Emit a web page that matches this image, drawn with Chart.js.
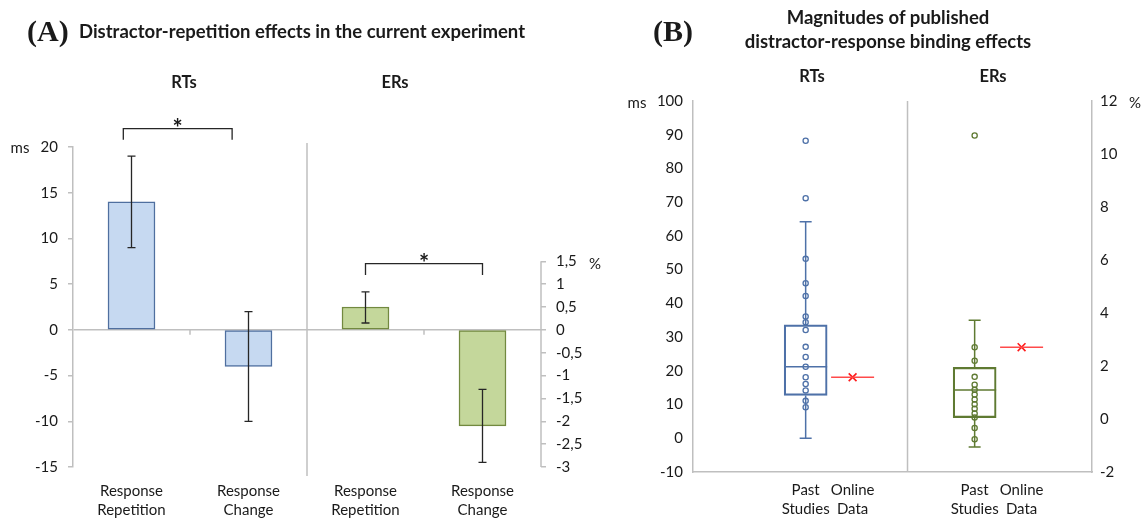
<!DOCTYPE html>
<html>
<head>
<meta charset="utf-8">
<script src="https://cdn.jsdelivr.net/npm/chart.js@4.4.1/dist/chart.umd.min.js"></script>
<style>
body { margin: 0; background: #fff; }
#wrap { position: relative; width: 1144px; height: 519px; overflow: hidden; font-family: Lato, "Open Sans", sans-serif; color: #1a1a1a; }
canvas { position: absolute; top: 0; }
.t { position: absolute; transform: translate(-50%, -50%); white-space: nowrap; }
.l { position: absolute; transform: translate(0, -50%); white-space: nowrap; }
.lbl { font-size: 15px; }
.hd { font-weight: bold; font-size: 16.5px; }
.ttl { font-weight: bold; font-size: 18.5px; }
.pn { font-family: "Liberation Serif", serif; font-weight: bold; font-size: 30px; }
</style>
</head>
<body>
<div id="wrap">
  <canvas id="chartA" width="600" height="519" style="left:0"></canvas>
  <canvas id="chartB" width="544" height="519" style="left:600px"></canvas>

  <div class="l pn" style="left:27px;top:31px">(A)</div>
  <div class="l ttl" style="left:79px;top:31px">Distractor-repetition effects in the current experiment</div>
  <div class="t hd" style="left:184px;top:82px">RTs</div>
  <div class="t hd" style="left:395px;top:82px">ERs</div>
  <div class="t lbl" style="left:20px;top:147px">ms</div>
  <div class="t lbl" style="left:595px;top:263px">%</div>

  <div class="l pn" style="left:653px;top:31px">(B)</div>
  <div class="t ttl" style="left:888px;top:17px">Magnitudes of published</div>
  <div class="t ttl" style="left:888px;top:41px">distractor-response binding effects</div>
  <div class="t hd" style="left:812px;top:76px">RTs</div>
  <div class="t hd" style="left:993px;top:76px">ERs</div>
  <div class="t lbl" style="left:637px;top:102px">ms</div>
  <div class="t lbl" style="left:1135px;top:102px">%</div>
</div>

<script>
// ---- panel A : distractor-repetition effects ----
var aLabels = [['Response', 'Repetition'], ['Response', 'Change'], ['Response', 'Repetition'], ['Response', 'Change']];
var aSlots = [0, 1, 2, 3];
var rtEffect = [14, -4];        // ms
var rtErrLow = [9, -10];
var rtErrHigh = [19, 2];
var erEffect = [0.5, -2.1];     // %
var erErrLow = [0.15, -2.9];
var erErrHigh = [0.83, -1.3];
var rtBracket = [-0.07, 0.86, 22, 20.8];    // x from, x to, y, leg end
var erBracket = [2, 3, 1.45, 1.2];
var msTicksA = [-15, -10, -5, 0, 5, 10, 15, 20];
var pctTicksA = [-3, -2.5, -2, -1.5, -1, -0.5, 0, 0.5, 1, 1.5];

// ---- panel B : published effects ----
var bLabels = [['Past', 'Studies'], ['Online', 'Data'], ['Past', 'Studies'], ['Online', 'Data']];
var bSlots = [2.4, 3.4, 6.0, 7.0];
var rtStudies = [88.2, 71.2, 53.2, 46.0, 42.2, 36.1, 34.4, 32.1, 27.1, 24.1, 21.2, 18.1, 16.1, 14.2, 11.1, 9.2];
var rtBox = [0, 12.7, 21.2, 33.6, 64.2];     // min, q1, median, q3, max
var rtOnline = 18.1;
var erStudies = [10.7, 2.71, 2.2, 1.59, 1.29, 1.1, 0.92, 0.74, 0.56, 0.39, 0.21, 0.06, -0.34, -0.76];
var erBox = [-1.06, 0.05, 1.09, 1.95, 3.73];
var erOnline = 2.71;
var msTicksB = [-10, 0, 10, 20, 30, 40, 50, 60, 70, 80, 90, 100];
var pctTicksB = [-2, 0, 2, 4, 6, 8, 10, 12];

var axisGray = '#bfbfbf';
var textCol = '#1a1a1a';
var rtBlue = '#4e71a8';
var erGreen = '#5f7a32';
var tickFont = { family: 'Lato, "Open Sans", sans-serif', size: 15, lineHeight: 1.3 };

function fixedTicks(list) {
    return function (scale) {
        scale.ticks = list.map(function (v) { return { value: v }; });
    };
}
function commaLabel(v) {
    return String(v).replace('.', ',');
}

var decorA = {
    id: 'decorA',
    beforeDatasetsDraw: function (chart) {
        var ctx = chart.ctx;
        var xs = chart.scales.x, ys = chart.scales.y, ye = chart.scales.yEr;
        var area = chart.chartArea;
        ctx.save();
        ctx.strokeStyle = axisGray;
        ctx.lineWidth = 1.5;
        // divider between RTs and ERs
        var dx = xs.getPixelForValue(1.5);
        ctx.beginPath();
        ctx.moveTo(dx, area.top - 4);
        ctx.lineTo(dx, area.bottom + 9);
        ctx.stroke();
        // small category ticks on the zero line
        var y0 = ys.getPixelForValue(0);
        [0.5, 2.5].forEach(function (v) {
            var px = xs.getPixelForValue(v);
            ctx.beginPath();
            ctx.moveTo(px, y0);
            ctx.lineTo(px, y0 + 5);
            ctx.stroke();
        });
        // the % axis only covers its own range
        ctx.beginPath();
        ctx.moveTo(ye.left, ye.getPixelForValue(pctTicksA[pctTicksA.length - 1]));
        ctx.lineTo(ye.left, ye.getPixelForValue(pctTicksA[0]));
        ctx.stroke();
        ctx.restore();
    },
    afterDatasetsDraw: function (chart) {
        var ctx = chart.ctx;
        var xs = chart.scales.x, ys = chart.scales.y, ye = chart.scales.yEr;
        ctx.save();
        ctx.strokeStyle = '#262626';
        ctx.lineWidth = 1.3;
        function errBar(x, lo, hi) {
            ctx.beginPath();
            ctx.moveTo(x, lo); ctx.lineTo(x, hi);
            ctx.moveTo(x - 4, lo); ctx.lineTo(x + 4, lo);
            ctx.moveTo(x - 4, hi); ctx.lineTo(x + 4, hi);
            ctx.stroke();
        }
        for (var i = 0; i < rtEffect.length; i++) {
            errBar(xs.getPixelForValue(aSlots[i]), ys.getPixelForValue(rtErrLow[i]), ys.getPixelForValue(rtErrHigh[i]));
        }
        for (var j = 0; j < erEffect.length; j++) {
            errBar(xs.getPixelForValue(aSlots[j + 2]), ye.getPixelForValue(erErrLow[j]), ye.getPixelForValue(erErrHigh[j]));
        }
        // significance brackets
        function bracket(b, scale) {
            var x1 = xs.getPixelForValue(b[0]), x2 = xs.getPixelForValue(b[1]);
            var y = scale.getPixelForValue(b[2]), yl = scale.getPixelForValue(b[3]);
            ctx.beginPath();
            ctx.moveTo(x1, yl); ctx.lineTo(x1, y); ctx.lineTo(x2, y); ctx.lineTo(x2, yl);
            ctx.stroke();
            ctx.fillStyle = textCol;
            ctx.font = 'bold 24px Lato, sans-serif';
            ctx.textAlign = 'center';
            ctx.textBaseline = 'alphabetic';
            ctx.fillText('*', (x1 + x2) / 2, y + 8);
        }
        bracket(rtBracket, ys);
        bracket(erBracket, ye);
        ctx.restore();
    }
};

new Chart(document.getElementById('chartA'), {
    type: 'bar',
    data: {
        datasets: [{
            data: rtEffect.map(function (v, i) { return { x: aSlots[i], y: v }; }),
            yAxisID: 'y',
            backgroundColor: '#c6d9f1',
            borderColor: '#4f6f9f',
            borderWidth: 1.5,
            borderSkipped: false,
            barThickness: 47,
            grouped: false
        }, {
            data: erEffect.map(function (v, i) { return { x: aSlots[i + 2], y: v }; }),
            yAxisID: 'yEr',
            backgroundColor: '#c4d79b',
            borderColor: '#72893f',
            borderWidth: 1.5,
            borderSkipped: false,
            barThickness: 47,
            grouped: false
        }]
    },
    options: {
        responsive: false,
        animation: false,
        events: [],
        layout: { padding: { top: 147, left: 0, right: 0, bottom: 0 } },
        plugins: { legend: { display: false }, tooltip: { enabled: false } },
        scales: {
            x: {
                type: 'linear', min: -0.5, max: 3.5, offset: false,
                afterBuildTicks: fixedTicks(aSlots),
                afterFit: function (s) { s.height = 52; },
                grid: { display: false, drawTicks: false },
                border: { display: false },
                ticks: {
                    padding: 14, color: textCol, font: tickFont, maxRotation: 0, autoSkip: false,
                    callback: function (v, i) { return aLabels[i]; }
                }
            },
            y: {
                position: 'left', min: -15, max: 20,
                afterBuildTicks: fixedTicks(msTicksA),
                afterFit: function (s) { s.width = 73; },
                border: { display: true, color: axisGray, width: 1.5 },
                grid: {
                    color: function (c) { return c.tick && c.tick.value === 0 ? axisGray : 'rgba(0,0,0,0)'; },
                    lineWidth: 1.5, drawTicks: true, tickLength: 5, tickColor: axisGray
                },
                ticks: { padding: 10, color: textCol, font: tickFont }
            },
            yEr: {
                position: 'right', min: -3, max: 4,
                afterBuildTicks: fixedTicks(pctTicksA),
                afterFit: function (s) { s.width = 59; },
                border: { display: false },
                grid: { drawOnChartArea: false, drawTicks: true, tickLength: 5, tickColor: axisGray, lineWidth: 1.5 },
                ticks: { padding: 10, color: textCol, font: tickFont, callback: commaLabel }
            }
        }
    },
    plugins: [decorA]
});

var decorB = {
    id: 'decorB',
    beforeDatasetsDraw: function (chart) {
        var ctx = chart.ctx;
        var xs = chart.scales.x, ys = chart.scales.y, ye = chart.scales.yEr;
        var area = chart.chartArea;
        ctx.save();
        ctx.strokeStyle = axisGray;
        ctx.lineWidth = 1.5;
        var dx = xs.getPixelForValue(4.57);
        ctx.beginPath();
        ctx.moveTo(dx, area.top);
        ctx.lineTo(dx, area.bottom);
        ctx.stroke();
        // whiskers and median
        function whisker(box, slot, scale, col) {
            var x = xs.getPixelForValue(slot);
            var med = scale.getPixelForValue(box[2]);
            ctx.strokeStyle = col;
            ctx.beginPath();
            ctx.moveTo(x, scale.getPixelForValue(box[3])); ctx.lineTo(x, scale.getPixelForValue(box[4]));
            ctx.moveTo(x - 6, scale.getPixelForValue(box[4])); ctx.lineTo(x + 6, scale.getPixelForValue(box[4]));
            ctx.moveTo(x, scale.getPixelForValue(box[1])); ctx.lineTo(x, scale.getPixelForValue(box[0]));
            ctx.moveTo(x - 6, scale.getPixelForValue(box[0])); ctx.lineTo(x + 6, scale.getPixelForValue(box[0]));
            ctx.moveTo(x - 21.5, med); ctx.lineTo(x + 21.5, med);
            ctx.stroke();
        }
        whisker(rtBox, bSlots[0], ys, rtBlue);
        whisker(erBox, bSlots[2], ye, erGreen);
        ctx.restore();
    }
};

new Chart(document.getElementById('chartB'), {
    type: 'bar',
    data: {
        datasets: [{
            data: [{ x: bSlots[0], y: [rtBox[1], rtBox[3]] }],
            yAxisID: 'y',
            backgroundColor: 'rgba(255,255,255,0)',
            borderColor: rtBlue, borderWidth: 1.5, borderSkipped: false,
            barThickness: 43, grouped: false
        }, {
            data: [{ x: bSlots[2], y: [erBox[1], erBox[3]] }],
            yAxisID: 'yEr',
            backgroundColor: 'rgba(255,255,255,0)',
            borderColor: erGreen, borderWidth: 1.5, borderSkipped: false,
            barThickness: 43, grouped: false
        }, {
            type: 'line', showLine: false, yAxisID: 'y',
            data: rtStudies.map(function (v) { return { x: bSlots[0], y: v }; }),
            pointStyle: 'circle', pointRadius: 2.6, pointBorderWidth: 1.3,
            pointBorderColor: rtBlue, pointBackgroundColor: 'rgba(255,255,255,0)'
        }, {
            type: 'line', showLine: false, yAxisID: 'yEr',
            data: erStudies.map(function (v) { return { x: bSlots[2], y: v }; }),
            pointStyle: 'circle', pointRadius: 2.6, pointBorderWidth: 1.3,
            pointBorderColor: erGreen, pointBackgroundColor: 'rgba(255,255,255,0)'
        }, {
            type: 'line', showLine: false, yAxisID: 'y',
            data: [{ x: bSlots[1], y: rtOnline }],
            pointStyle: 'line', pointRadius: 21.5, pointBorderWidth: 1.6, pointBorderColor: '#ff4a4a'
        }, {
            type: 'line', showLine: false, yAxisID: 'yEr',
            data: [{ x: bSlots[3], y: erOnline }],
            pointStyle: 'line', pointRadius: 21.5, pointBorderWidth: 1.6, pointBorderColor: '#ff4a4a'
        }, {
            type: 'line', showLine: false, yAxisID: 'y',
            data: [{ x: bSlots[1], y: rtOnline }],
            pointStyle: 'crossRot', pointRadius: 5.5, pointBorderWidth: 1.6, pointBorderColor: '#ff1a1a'
        }, {
            type: 'line', showLine: false, yAxisID: 'yEr',
            data: [{ x: bSlots[3], y: erOnline }],
            pointStyle: 'crossRot', pointRadius: 5.5, pointBorderWidth: 1.6, pointBorderColor: '#ff1a1a'
        }]
    },
    options: {
        responsive: false,
        animation: false,
        events: [],
        layout: { padding: { top: 101, left: 0, right: 0, bottom: 0 } },
        plugins: { legend: { display: false }, tooltip: { enabled: false } },
        scales: {
            x: {
                type: 'linear', min: 0, max: 8.5, offset: false,
                afterBuildTicks: fixedTicks(bSlots),
                afterFit: function (s) { s.height = 47; },
                grid: { drawOnChartArea: false, drawTicks: false },
                border: { display: true, color: axisGray, width: 1.5 },
                ticks: {
                    padding: 8, color: textCol, font: tickFont, maxRotation: 0, autoSkip: false,
                    callback: function (v, i) { return bLabels[i]; }
                }
            },
            y: {
                position: 'left', min: -10, max: 100,
                afterBuildTicks: fixedTicks(msTicksB),
                afterFit: function (s) { s.width = 93; },
                border: { display: true, color: axisGray, width: 1.5 },
                grid: { drawOnChartArea: false, drawTicks: false },
                ticks: { padding: 10, color: textCol, font: tickFont }
            },
            yEr: {
                position: 'right', min: -2, max: 12,
                afterBuildTicks: fixedTicks(pctTicksB),
                afterFit: function (s) { s.width = 52; },
                border: { display: true, color: axisGray, width: 1.5 },
                grid: { drawOnChartArea: false, drawTicks: false },
                ticks: { padding: 8, color: textCol, font: tickFont }
            }
        }
    },
    plugins: [decorB]
});
</script>
</body>
</html>
